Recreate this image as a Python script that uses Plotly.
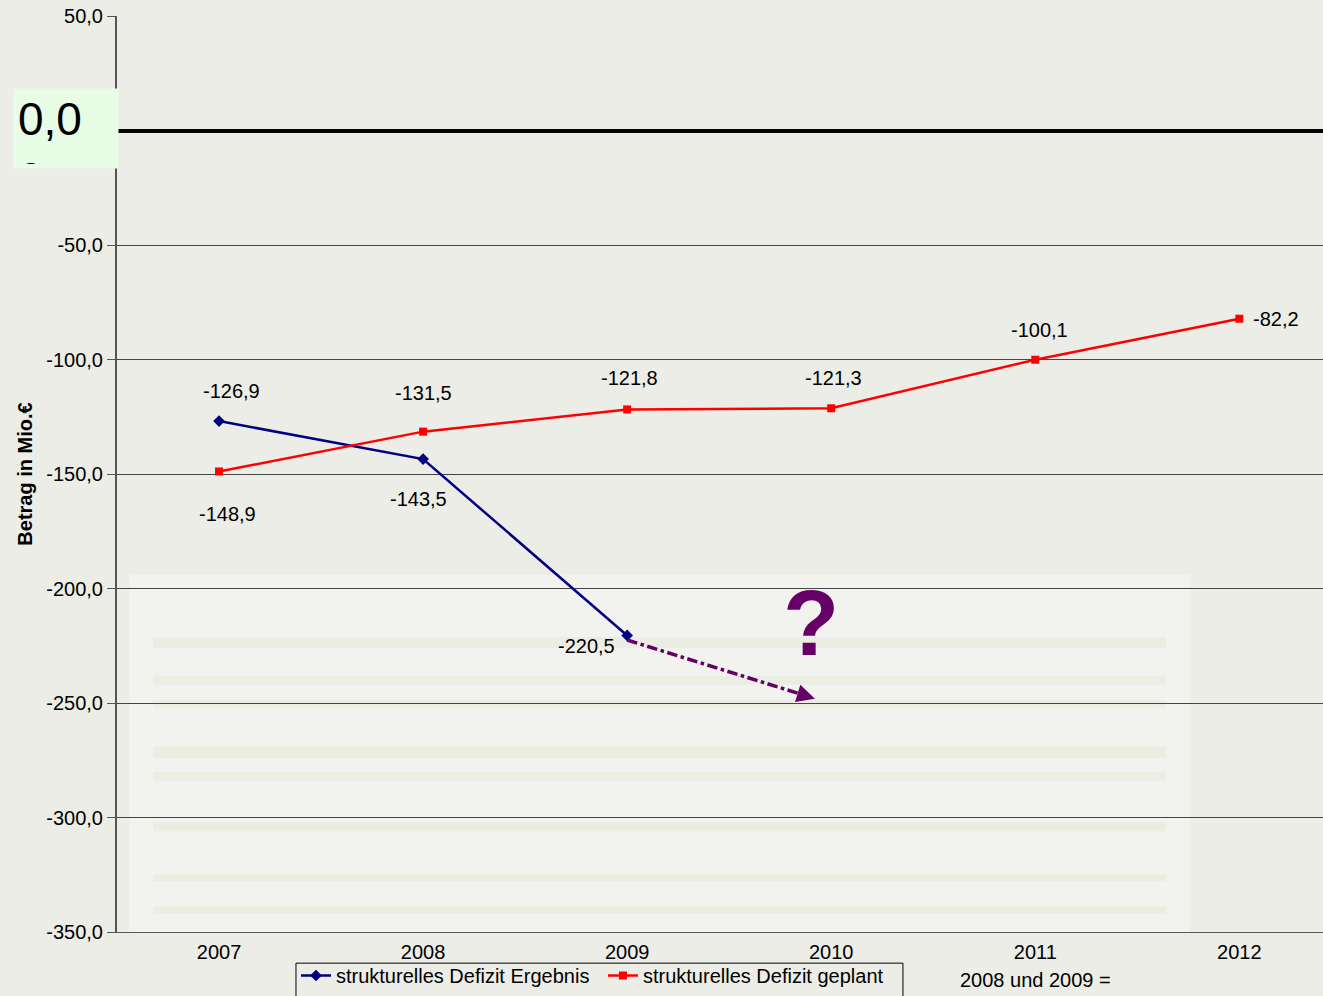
import plotly.graph_objects as go

# Werte aus dem Diagramm
jahre = ["2007", "2008", "2009", "2010", "2011", "2012"]
ergebnis = [-126.9, -143.5, -220.5]
geplant = [-148.9, -131.5, -121.8, -121.3, -100.1, -82.2]

y_ticks = [50, 0, -50, -100, -150, -200, -250, -300, -350]

# Prognose-Pfeil (gestrichelt) ab 2009
prognose_x = [2, 2.9]
prognose_y = [-222.5, -247.5]

def de(v):
    return f"{v:.1f}".replace(".", ",")

x_idx = list(range(len(jahre)))
font = "Liberation Sans, Arial, sans-serif"
purple = "#660066"

fig = go.Figure()

fig.add_trace(go.Scatter(
    x=x_idx[:len(ergebnis)], y=ergebnis, mode="lines+markers",
    name="strukturelles Defizit Ergebnis",
    line=dict(color="#000080", width=2.5),
    marker=dict(symbol="diamond", size=9, color="#000080"),
))
fig.add_trace(go.Scatter(
    x=x_idx, y=geplant, mode="lines+markers",
    name="strukturelles Defizit geplant",
    line=dict(color="#FF0000", width=2.5),
    marker=dict(symbol="square", size=8, color="#FF0000"),
))
fig.add_trace(go.Scatter(
    x=prognose_x, y=prognose_y, mode="lines", showlegend=False,
    line=dict(color=purple, width=3.5, dash="dashdot"), hoverinfo="skip",
))

# Datenbeschriftungen (Verschiebung in Pixeln)
erg_shift = [(12, 30), (-5, -40), (-41, -11)]
gep_shift = [(8, -43), (0, 39), (2, 31), (2, 30), (4, 30), (37, 0)]
ann = []
for i, v in enumerate(ergebnis):
    dx, dy = erg_shift[i]
    ann.append(dict(x=i, y=v, text=de(v), showarrow=False, xshift=dx, yshift=dy,
                    font=dict(size=20, color="black", family=font)))
for i, v in enumerate(geplant):
    dx, dy = gep_shift[i]
    ann.append(dict(x=i, y=v, text=de(v), showarrow=False, xshift=dx, yshift=dy,
                    font=dict(size=20, color="black", family=font)))

# Pfeilspitze
ann.append(dict(x=prognose_x[1] + 0.02, y=prognose_y[1] - 0.6, ax=prognose_x[1] - 0.06,
                ay=prognose_y[1] + 1.6, axref="x", ayref="y", xref="x", yref="y",
                showarrow=True, arrowhead=2, arrowsize=1.2, arrowwidth=3, arrowcolor=purple,
                text=""))
# Fragezeichen
ann.append(dict(x=2.9, y=-215, text="<b>?</b>", showarrow=False,
                font=dict(size=92, color=purple, family=font)))
# Kasten "0,0"
ann.append(dict(xref="paper", yref="paper", x=-0.0862, y=0.9214,
                xanchor="left", yanchor="top", text="0,0<br>0", showarrow=False,
                align="left", valign="top", width=96, height=71, borderpad=4,
                bgcolor="#E8FCE6", font=dict(size=46, color="black", family=font)))
ann.append(dict(xref="x", yref="paper", x=4, y=-0.0524, yanchor="middle",
                text="2008 und 2009 =", showarrow=False,
                font=dict(size=20, color="black", family=font)))

# heller Hintergrund unten (Papierstapel angedeutet)
shapes = [dict(type="rect", xref="paper", yref="paper", x0=0.01, x1=0.89, y0=0.0, y1=0.39,
               fillcolor="white", opacity=0.35, line_width=0, layer="below")]
for yb, h in [(0.31, 0.012), (0.27, 0.01), (0.245, 0.008), (0.19, 0.012),
              (0.165, 0.01), (0.11, 0.01), (0.055, 0.008), (0.02, 0.008)]:
    shapes.append(dict(type="rect", xref="paper", yref="paper", x0=0.03, x1=0.87,
                       y0=yb, y1=yb + h, fillcolor="#D9E0C6", opacity=0.3,
                       line_width=0, layer="below"))
# Legendenrahmen (unten abgeschnitten wie im Original)
shapes.append(dict(type="rect", xref="paper", yref="paper", x0=0.1484, x1=0.6517,
                   y0=-0.08, y1=-0.034, line=dict(color="black", width=1),
                   fillcolor="rgba(0,0,0,0)"))

fig.update_layout(
    width=1323, height=996,
    margin=dict(l=117, r=0, t=16, b=64),
    paper_bgcolor="#ECEDE6",
    plot_bgcolor="rgba(0,0,0,0)",
    font=dict(family=font, size=20, color="black"),
    showlegend=True,
    legend=dict(orientation="h", x=0.1484, y=-0.0262, xanchor="left", yanchor="top",
                borderwidth=0, bgcolor="rgba(0,0,0,0)",
                font=dict(size=20), itemwidth=30, tracegroupgap=0,
                entrywidth=262),
    annotations=ann,
    shapes=shapes,
)

fig.update_xaxes(
    range=[-0.5, 5.41], tickvals=x_idx, ticktext=jahre, showgrid=False,
    zeroline=False, showline=True, linecolor="#555555", linewidth=1,
    tickfont=dict(size=20), ticks="", ticklabelstandoff=2,
)
fig.update_yaxes(
    range=[-350, 50], tickvals=y_ticks,
    ticktext=["" if t == 0 else de(t) for t in y_ticks],
    showgrid=True, gridcolor="#444444", gridwidth=1,
    zeroline=True, zerolinecolor="black", zerolinewidth=4,
    showline=True, linecolor="#555555", linewidth=2,
    ticks="outside", ticklen=8, tickcolor="#555555",
    tickfont=dict(size=20),
    title=dict(text="<b>Betrag in Mio.€</b>", font=dict(size=20), standoff=8),
)

fig.write_html("out.html", config={"displayModeBar": False},
               post_script="document.body.style.margin='0';")
